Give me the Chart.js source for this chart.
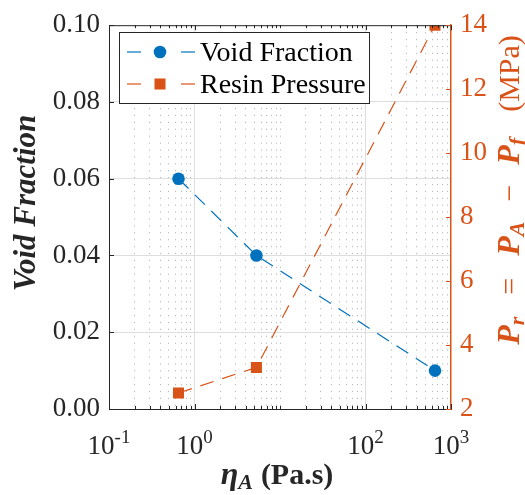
<!DOCTYPE html>
<html>
<head>
<meta charset="utf-8">
<script src="https://cdn.jsdelivr.net/npm/chart.js@4.4.0/dist/chart.umd.min.js"></script>
<style>
  html, body { margin: 0; padding: 0; background: #fff; }
  #wrap { width: 525px; height: 495px; }
</style>
</head>
<body>
<div id="wrap"><canvas id="myChart" width="525" height="495"></canvas></div>
<script>
'use strict';

// DATA
var viscosity = [0.65, 5.3, 650];        // eta_A (Pa.s)
var voidFraction = [0.06, 0.04, 0.01];
var resinPressure = [2.5, 3.3, 14];      // MPa
var xTickValues = [0.1, 1, 100, 1000];
var xTickExponents = ['-1', '0', '2', '3'];
var xDecades = [0.1, 1, 10, 100];

// COLOURS / FONTS
var blue = '#0072BD';
var orange = '#D95319';
var axisColor = '#262626';
var serif = '"Liberation Serif", "Times New Roman", serif';

// minor grid positions for the log axis (1..9 in each decade)
var xGridValues = [];
xDecades.forEach(function(d) {
  for (var m = 1; m < 10; m++) xGridValues.push(d * m);
});
xGridValues.push(1000);

function isLabelled(v) {
  for (var i = 0; i < xTickValues.length; i++) {
    if (Math.abs(v - xTickValues[i]) < 1e-9) return true;
  }
  return false;
}

// draw text made of several pieces (sub/superscripts, mixed fonts, fixed gaps)
function drawRuns(c, runs, x, y) {
  var total = 0;
  runs.forEach(function(r) {
    if (r.gap) { r.w = r.gap; } else { c.font = r.f; r.w = c.measureText(r.t).width; }
    total += r.w;
  });
  var cx = x - total / 2;
  runs.forEach(function(r) {
    if (!r.gap) {
      c.font = r.f;
      c.fillText(r.t, cx, y + (r.dy || 0));
    }
    cx += r.w;
  });
}

function line(c, x1, y1, x2, y2) {
  c.beginPath(); c.moveTo(x1, y1); c.lineTo(x2, y2); c.stroke();
}

var framePlugin = {
  id: 'frame',
  afterDraw: function(chart) {
    var c = chart.ctx;
    var a = chart.chartArea;
    var xs = chart.scales.x, yl = chart.scales.y, yr = chart.scales.y2;
    c.save();

    // top border + inside ticks
    c.strokeStyle = axisColor;
    c.lineWidth = 1;
    line(c, a.left, a.top + 0.5, a.right, a.top + 0.5);
    xs.ticks.forEach(function(t) {
      var px = Math.round(xs.getPixelForValue(t.value)) + 0.5;
      var len = t.major ? 5 : 3;
      line(c, px, a.bottom, px, a.bottom - len);
      line(c, px, a.top, px, a.top + len);
    });
    yl.ticks.forEach(function(t) {
      var py = Math.round(yl.getPixelForValue(t.value)) + 0.5;
      line(c, a.left, py, a.left + 5, py);
    });
    c.strokeStyle = orange;
    yr.ticks.forEach(function(t) {
      var py = Math.round(yr.getPixelForValue(t.value)) + 0.5;
      line(c, a.right, py, a.right - 5, py);
    });

    // x tick labels 10^n
    c.fillStyle = axisColor;
    c.textBaseline = 'alphabetic';
    c.textAlign = 'left';
    xTickValues.forEach(function(v, i) {
      drawRuns(c, [
        {t: '10', f: '27px ' + serif},
        {t: xTickExponents[i], f: '19px ' + serif, dy: -11}
      ], xs.getPixelForValue(v), 454);
    });

    // x title
    drawRuns(c, [
      {t: '\u03B7', f: 'bold italic 32px ' + serif},
      {t: 'A', f: 'bold italic 22px ' + serif, dy: 5},
      {gap: 8},
      {t: '(Pa.s)', f: 'bold 30px ' + serif}
    ], (a.left + a.right) / 2 - 3, 484);

    // left title
    c.save();
    c.translate(35, 203);
    c.rotate(-Math.PI / 2);
    drawRuns(c, [{t: 'Void Fraction', f: 'bold italic 31px ' + serif}], 0, 0);
    c.restore();

    // right title
    c.save();
    c.fillStyle = orange;
    c.translate(519, 190);
    c.rotate(-Math.PI / 2);
    var big = 'bold italic 32px ' + serif, sub = 'bold italic 22px ' + serif, nrm = '30px ' + serif;
    drawRuns(c, [
      {t: 'P', f: big}, {t: 'r', f: sub, dy: 5},
      {gap: 22}, {t: '=', f: nrm}, {gap: 22},
      {t: 'P', f: big}, {t: 'A', f: sub, dy: 5},
      {gap: 20}, {t: '\u2212', f: nrm}, {gap: 20},
      {t: 'P', f: big}, {t: 'f', f: sub, dy: 5},
      {gap: 26},
      {t: '(MPa)', f: nrm}
    ], 0, 0);
    c.restore();

    // legend
    c.fillStyle = '#fff';
    c.fillRect(119.5, 32.5, 250, 71);
    c.strokeStyle = axisColor;
    c.lineWidth = 1;
    c.strokeRect(119.5, 32.5, 250, 71);
    var rows = [52, 84];
    chart.data.datasets.forEach(function(ds, i) {
      var y = rows[i];
      c.strokeStyle = ds.borderColor;
      c.lineWidth = ds.borderWidth;
      line(c, 127, y, 141, y);
      line(c, 181, y, 195, y);
      c.fillStyle = ds.borderColor;
      Chart.helpers.drawPoint(c, {pointStyle: ds.pointStyle, radius: ds.pointRadius, borderWidth: 0, rotation: 0}, 160, y);
      c.fillStyle = '#000';
      c.font = '28px ' + serif;
      c.fillText(ds.label, 200, y + 9);
    });

    c.restore();
  }
};

var ctx = document.getElementById('myChart');
var myChart = new Chart(ctx, {
  type: 'line',
  data: {
    datasets: [{
      label: 'Void Fraction',
      data: viscosity.map(function(x, i) { return {x: x, y: voidFraction[i]}; }),
      yAxisID: 'y',
      borderColor: blue,
      backgroundColor: blue,
      borderWidth: 1.2,
      borderDash: [14, 9],
      pointStyle: 'circle',
      pointRadius: 6.3,
      pointBorderWidth: 0,
      pointBackgroundColor: blue,
      clip: 0
    }, {
      label: 'Resin Pressure',
      data: viscosity.map(function(x, i) { return {x: x, y: resinPressure[i]}; }),
      yAxisID: 'y2',
      borderColor: orange,
      backgroundColor: orange,
      borderWidth: 1.2,
      borderDash: [14, 9],
      pointStyle: 'rect',
      pointRadius: 7.8,
      pointBorderWidth: 0,
      pointBackgroundColor: orange,
      clip: 0
    }]
  },
  options: {
    responsive: false,
    animation: false,
    devicePixelRatio: 1,
    layout: { padding: { top: 20, left: 0, right: 0, bottom: 0 } },
    plugins: { legend: { display: false }, tooltip: { enabled: false } },
    scales: {
      x: {
        type: 'logarithmic',
        min: 0.1,
        max: 1000,
        afterBuildTicks: function(scale) {
          scale.ticks = xGridValues.map(function(v) { return {value: v, major: isLabelled(v)}; });
        },
        afterFit: function(scale) { scale.height = 86; },
        ticks: { display: false },
        grid: {
          drawTicks: false,
          lineWidth: 1,
          color: function(c) {
            if (!c.tick) return 'rgba(0,0,0,0)';
            var v = c.tick.value;
            if (v <= 0.1 + 1e-9 || v >= 1000 - 1e-6) return 'rgba(0,0,0,0)';
            return isLabelled(v) ? '#dedede' : 'rgba(0,0,0,0.28)';
          }
        },
        border: {
          color: axisColor,
          width: 1,
          dash: function(c) {
            if (!c.tick) return [];
            return isLabelled(c.tick.value) ? [] : [1.2, 5.7];
          }
        }
      },
      y: {
        position: 'left',
        min: 0,
        max: 0.1,
        afterFit: function(scale) { scale.width = 109; },
        ticks: {
          stepSize: 0.02,
          padding: 9,
          color: axisColor,
          font: { family: serif, size: 27 },
          callback: function(v) { return v.toFixed(2); }
        },
        grid: {
          drawTicks: false,
          color: function(c) {
            if (!c.tick || c.index === 0 || c.index === 5) return 'rgba(0,0,0,0)';
            return '#dedede';
          }
        },
        border: { color: axisColor, width: 1 }
      },
      y2: {
        position: 'right',
        min: 2,
        max: 14,
        afterFit: function(scale) { scale.width = 74; },
        ticks: {
          stepSize: 2,
          padding: 9,
          color: orange,
          font: { family: serif, size: 27 }
        },
        grid: { drawOnChartArea: false, drawTicks: false },
        border: { color: orange, width: 1.5 }
      }
    }
  },
  plugins: [framePlugin]
});
</script>
</body>
</html>
